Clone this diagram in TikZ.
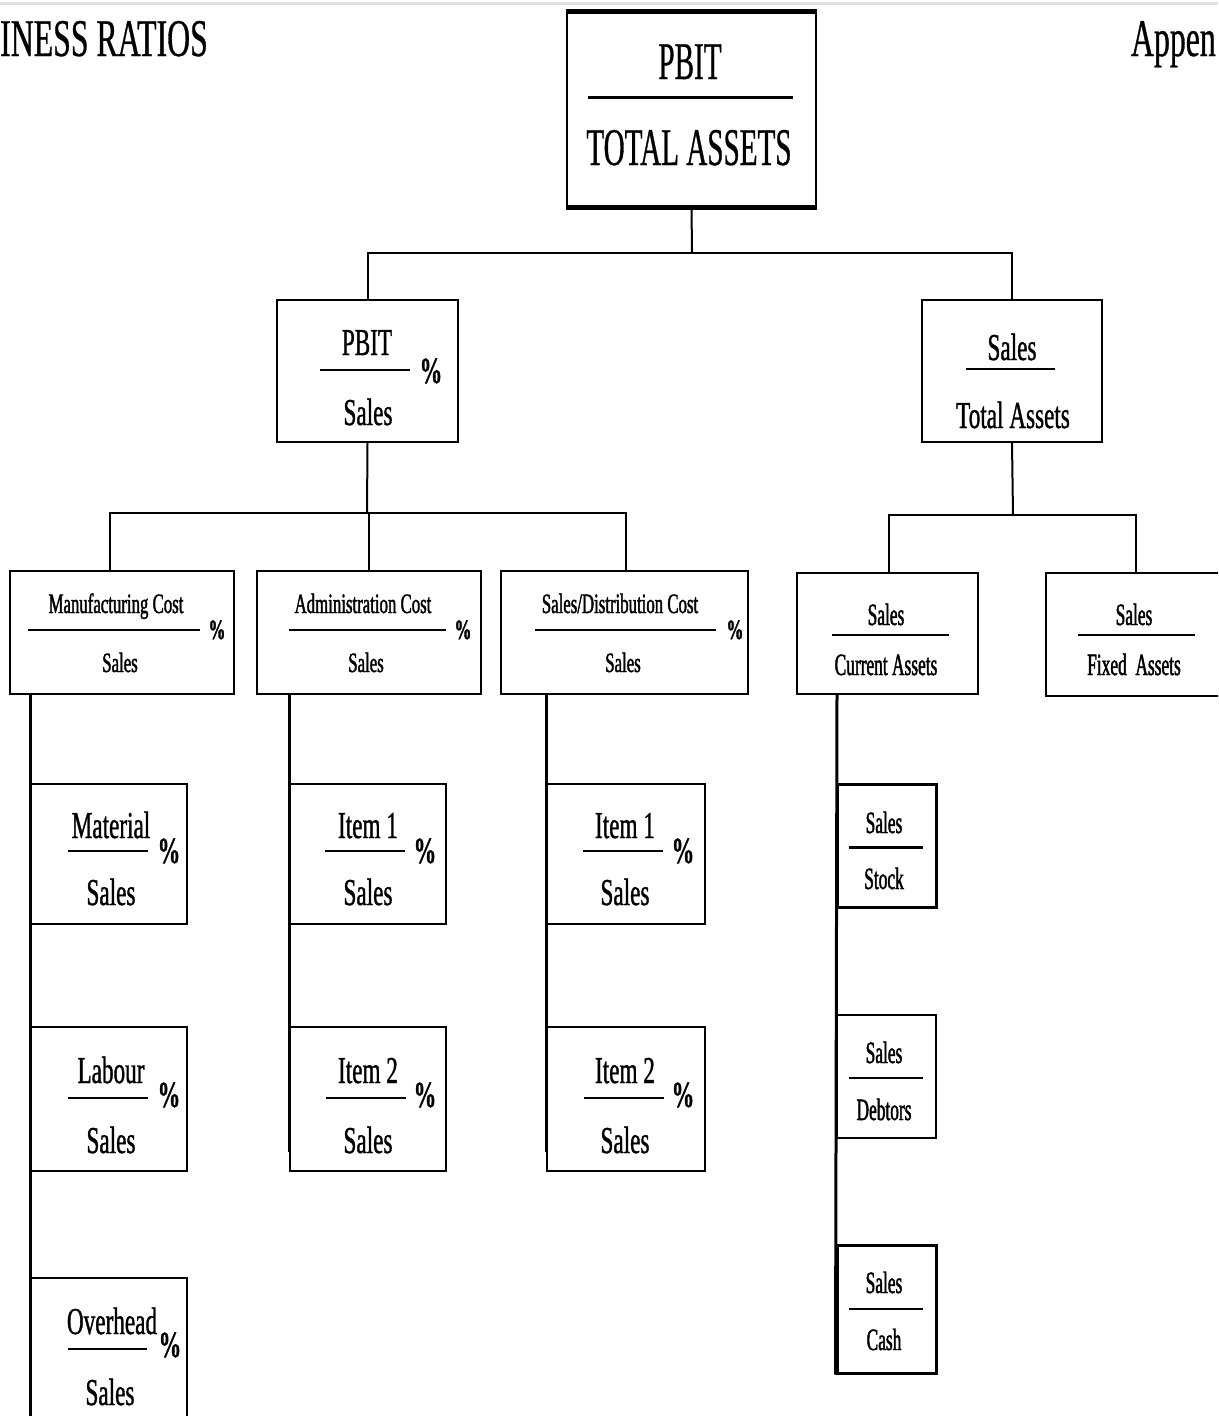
\documentclass[tikz,border=0pt]{standalone}
\usepackage{fontspec}
\setmainfont{Liberation Serif}
% condensed cuts of the serif face used for the ratio labels
\newfontfamily\condTitle{Liberation Serif}[FakeStretch=0.60, FakeBold=0.6]
\newfontfamily\condBig{Liberation Serif}[FakeStretch=0.55, FakeBold=0.6]
\newfontfamily\condMid{Liberation Serif}[FakeStretch=0.61, FakeBold=0.9]
\newfontfamily\condCost{Liberation Serif}[FakeStretch=0.60, FakeBold=1.4]
\newfontfamily\condItem{Liberation Serif}[FakeStretch=0.61, FakeBold=0.9]
\newfontfamily\condSmall{Liberation Serif}[FakeStretch=0.56, FakeBold=1.4]

\tikzset{
  box/.style={draw, rectangle, line width=2pt, inner sep=0pt},
  heavybox/.style={box, line width=3pt},
  txt/.style={inner sep=0pt, anchor=base},
  titletxt/.style={txt, font=\condTitle\fontsize{53}{60}\selectfont},
  bigtxt/.style={txt, font=\condBig\fontsize{53}{60}\selectfont},
  midtxt/.style={txt, font=\condMid\fontsize{38}{44}\selectfont},
  costtxt/.style={txt, font=\condCost\fontsize{28}{32}\selectfont},
  itemtxt/.style={txt, font=\condItem\fontsize{38}{44}\selectfont},
  smalltxt/.style={txt, font=\condSmall\fontsize{31}{36}\selectfont},
  pctbig/.style={txt, font=\condMid\bfseries\fontsize{37}{40}\selectfont},
  pctcost/.style={txt, font=\condCost\bfseries\fontsize{28}{32}\selectfont},
  bar/.style={line width=2pt},
  link/.style={line width=2pt},
  spine/.style={line width=3pt},
}

\begin{document}
\begin{tikzpicture}[x=1pt, y=-1pt]
\useasboundingbox (0,0) rectangle (1218,1416);
\clip (0,0) rectangle (1218,1416);
\fill[white] (0,0) rectangle (1218,1416);
\draw[black!12, line width=3pt] (0,3) -- (1218,3);

% page headings
\node[titletxt, anchor=base west] (title) at (0,56) {INESS RATIOS};
\node[titletxt, anchor=base east] (appx) at (1216,56) {Appen};

% ---------- level 1 ----------
\node[box, minimum width=249pt, minimum height=194pt] (top) at (691.5,109) {};
\draw[line width=5pt] (top.north west) -- (top.north east);
\draw[line width=5pt] (top.south west) -- (top.south east);
\node[bigtxt] (top-n) at (690,79) {PBIT};
\draw[bar, line width=3pt] (588,97) -- (793,97);
\node[bigtxt] (top-d) at (689,165) {TOTAL ASSETS};

% ---------- level 2 ----------
\node[box, minimum width=181pt, minimum height=142pt] (pbit) at (367.5,371) {};
\node[midtxt] (pbit-n) at (367,355) {PBIT};
\draw[bar] (320,370) -- (410,370);
\node[pctbig] (pbit-p) at (431,383) {\%};
\node[midtxt] (pbit-d) at (368,425) {Sales};

\node[box, minimum width=180pt, minimum height=142pt] (sta) at (1012,371) {};
\node[midtxt] (sta-n) at (1012,360) {Sales};
\draw[bar] (966,369) -- (1055,369);
\node[midtxt] (sta-d) at (1013,428) {Total Assets};

% ---------- level 3 ----------
\node[box, minimum width=224pt, minimum height=123pt] (manuf) at (122,632.5) {};
\node[costtxt] (manuf-n) at (116,613) {Manufacturing Cost};
\draw[bar] (28,630) -- (200,630);
\node[pctcost] (manuf-p) at (217,639) {\%};
\node[costtxt] (manuf-d) at (120,672) {Sales};

\node[box, minimum width=224pt, minimum height=123pt] (admin) at (369,632.5) {};
\node[costtxt] (admin-n) at (363,613) {Administration Cost};
\draw[bar] (289,630) -- (446,630);
\node[pctcost] (admin-p) at (463,639) {\%};
\node[costtxt] (admin-d) at (366,672) {Sales};

\node[box, minimum width=247pt, minimum height=123pt] (dist) at (624.5,632.5) {};
\node[costtxt] (dist-n) at (620,613) {Sales/Distribution Cost};
\draw[bar] (535,630) -- (716,630);
\node[pctcost] (dist-p) at (735,639) {\%};
\node[costtxt] (dist-d) at (623,672) {Sales};

\node[box, minimum width=181pt, minimum height=121pt] (sca) at (887.5,633.5) {};
\node[smalltxt] (sca-n) at (886,625) {Sales};
\draw[bar] (832,635) -- (949,635);
\node[smalltxt] (sca-d) at (886,675) {Current Assets};

\node[box, minimum width=180pt, minimum height=123pt] (sfa) at (1136,634.5) {};
\node[smalltxt] (sfa-n) at (1134,625) {Sales};
\draw[bar] (1078,635) -- (1195,635);
\node[smalltxt] (sfa-d) at (1134,675) {Fixed\ \ Assets};

% ---------- level 4: manufacturing cost breakdown ----------
\node[box, minimum width=156pt, minimum height=140pt] (mat) at (109,854) {};
\node[itemtxt] (mat-n) at (111,838) {Material};
\draw[bar] (68,851) -- (148,851);
\node[pctbig] (mat-p) at (169,863) {\%};
\node[itemtxt] (mat-d) at (111,905) {Sales};

\node[box, minimum width=156pt, minimum height=144pt] (lab) at (109,1099) {};
\node[itemtxt] (lab-n) at (111,1083) {Labour};
\draw[bar] (68,1098) -- (148,1098);
\node[pctbig] (lab-p) at (169,1107) {\%};
\node[itemtxt] (lab-d) at (111,1153) {Sales};

\node[box, minimum width=156pt, minimum height=152pt] (ovh) at (109,1354) {};
\node[itemtxt] (ovh-n) at (112,1334) {Overhead};
\draw[bar] (68,1349) -- (147,1349);
\node[pctbig] (ovh-p) at (170,1357) {\%};
\node[itemtxt] (ovh-d) at (110,1405) {Sales};

% ---------- level 4: administration cost breakdown ----------
\node[box, minimum width=156pt, minimum height=140pt] (ai1) at (368,854) {};
\node[itemtxt] (ai1-n) at (368,838) {Item 1};
\draw[bar] (325,851) -- (405,851);
\node[pctbig] (ai1-p) at (425,863) {\%};
\node[itemtxt] (ai1-d) at (368,905) {Sales};

\node[box, minimum width=156pt, minimum height=144pt] (ai2) at (368,1099) {};
\node[itemtxt] (ai2-n) at (368,1083) {Item 2};
\draw[bar] (326,1098) -- (406,1098);
\node[pctbig] (ai2-p) at (425,1107) {\%};
\node[itemtxt] (ai2-d) at (368,1153) {Sales};

% ---------- level 4: sales/distribution cost breakdown ----------
\node[box, minimum width=158pt, minimum height=140pt] (di1) at (626,854) {};
\node[itemtxt] (di1-n) at (625,838) {Item 1};
\draw[bar] (583,851) -- (663,851);
\node[pctbig] (di1-p) at (683,863) {\%};
\node[itemtxt] (di1-d) at (625,905) {Sales};

\node[box, minimum width=158pt, minimum height=144pt] (di2) at (626,1099) {};
\node[itemtxt] (di2-n) at (625,1083) {Item 2};
\draw[bar] (584,1098) -- (664,1098);
\node[pctbig] (di2-p) at (683,1107) {\%};
\node[itemtxt] (di2-d) at (625,1153) {Sales};

% ---------- level 4: current assets breakdown ----------
\node[heavybox, minimum width=99pt, minimum height=123pt] (stk) at (886.5,845.5) {};
\node[smalltxt] (stk-n) at (884,833) {Sales};
\draw[bar, line width=3pt] (849,847) -- (923,847);
\node[smalltxt] (stk-d) at (884,889) {Stock};

\node[box, minimum width=99pt, minimum height=123pt] (dbt) at (886.5,1076.5) {};
\node[smalltxt] (dbt-n) at (884,1063) {Sales};
\draw[bar] (849,1078) -- (923,1078);
\node[smalltxt] (dbt-d) at (884,1120) {Debtors};

\node[heavybox, minimum width=99pt, minimum height=128pt] (cash) at (886.5,1309) {};
\node[smalltxt] (cash-n) at (884,1293) {Sales};
\draw[bar] (849,1309) -- (923,1309);
\node[smalltxt] (cash-d) at (884,1350) {Cash};

% ---------- connectors ----------
\coordinate (j0) at (692,253);
\draw[link] (top.south) -- (j0);
\draw[link] (pbit.north) -- (pbit.north |- j0) -- (sta.north |- j0) -- (sta.north);

\coordinate (j1) at (367,513);
\draw[link] (pbit.south) -- (j1);
\draw[link] ([xshift=-12pt]manuf.north) -- ([xshift=-12pt]manuf.north |- j1)
  -- ([xshift=1.5pt]dist.north |- j1) -- ([xshift=1.5pt]dist.north);
\draw[link] (admin.north) -- (admin.north |- j1);

\coordinate (j2) at (1013,515);
\draw[link] (sta.south) -- (j2);
\draw[link] ([xshift=1.5pt]sca.north) -- ([xshift=1.5pt]sca.north |- j2)
  -- (sfa.north |- j2) -- (sfa.north);

% vertical spines down the left edge of each breakdown column
\draw[spine] ([xshift=21pt]manuf.south west) -- (ovh.south west);
\draw[spine] ([xshift=33pt]admin.south west) -- ([yshift=20pt]ai2.south west);
\draw[spine] ([xshift=46pt]dist.south west) -- ([yshift=20pt]di2.south west);
\draw[spine] ([xshift=41pt]sca.south west) -- (cash.south west);
\end{tikzpicture}
\end{document}
